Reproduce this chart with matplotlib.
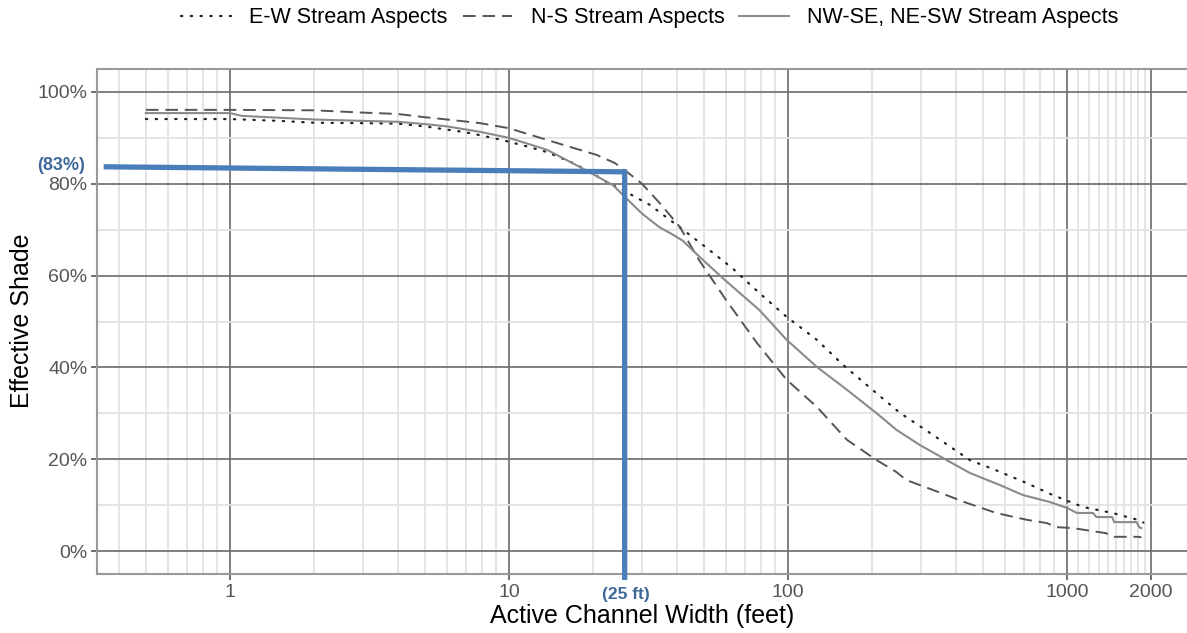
import matplotlib
matplotlib.use("Agg")
import matplotlib.pyplot as plt
from matplotlib.ticker import FixedLocator, PercentFormatter, NullFormatter

plt.rcParams['font.family'] = ['Liberation Sans', 'DejaVu Sans']

# E-W stream aspects (dotted)
ew_x = [0.5, 1, 1.5, 2, 3, 4, 5, 6, 7, 8, 9.5, 11.5, 13.7, 17, 20, 22.4, 25.6, 32, 41, 50,
        63, 79, 99, 127, 158, 201, 252, 331, 449, 557, 718, 889, 1142, 1454, 1794, 1880]
ew_y = [.941, .941, .937, .933, .932, .931, .925, .918, .912, .905, .895, .882, .869, .845, .822, .804,
        .786, .754, .705, .665, .617, .562, .510, .460, .405, .351, .301, .253, .198, .176, .148, .122,
        .096, .083, .068, .062]

# N-S stream aspects (dashed)
ns_x = [0.5, 1, 2, 3, 4, 5, 6, 7.9, 10, 12.5, 15.6, 20.6, 24, 27, 30, 34.7, 41, 48, 60, 77.5,
        99, 127, 163, 208, 245, 265, 331, 437, 557, 718, 846, 918, 1052, 1310, 1380, 1454, 1794, 1850]
ns_y = [.961, .961, .960, .955, .952, .945, .940, .932, .921, .903, .885, .863, .845, .822, .800, .758,
        .706, .634, .547, .453, .373, .314, .242, .198, .172, .155, .133, .105, .083, .068, .061, .052,
        .050, .041, .039, .031, .031, .030]

# NW-SE, NE-SW stream aspects (solid)
dg_x = [0.5, 1, 1.1, 2, 3, 4, 5, 6, 7.9, 10, 13.7, 17.9, 23.6, 26.7, 30, 34.7, 38, 42, 48, 58.5, 79,
        99, 127, 163, 208, 245, 297, 371, 449, 574, 695, 866, 1000, 1086, 1240, 1276, 1454, 1477,
        1780, 1815, 1850]
dg_y = [.954, .954, .948, .940, .937, .935, .930, .925, .913, .900, .874, .837, .797, .765, .735, .705,
        .692, .676, .642, .594, .525, .460, .401, .351, .300, .264, .231, .198, .170, .144, .122, .107,
        .094, .083, .083, .074, .074, .063, .063, .052, .050]

# reference reading
ref_x = [0.353, 26, 26]
ref_y = [0.837, 0.826, -0.063]

x_major = [1, 10, 100, 1000, 2000]
x_labels = ['1', '10', '100', '1000', '2000']
x_minor = [0.4, 0.5, 0.6, 0.7, 0.8, 0.9] + list(range(2, 10)) + list(range(20, 100, 10)) \
    + list(range(200, 1000, 100)) + list(range(1100, 2000, 100))
y_major = [0, 0.2, 0.4, 0.6, 0.8, 1.0]
y_minor = [0.1, 0.3, 0.5, 0.7, 0.9]

fig = plt.figure(figsize=(11.87, 6.33), dpi=100)
left = 97 / 1187
right = 1200 / 1187
bottom = (633 - 574) / 633
top = (633 - 69) / 633
ax = fig.add_axes([left, bottom, right - left, top - bottom])

ax.set_xscale('log')
ax.set_xlim(0.334, 2999)
ax.set_ylim(-0.05, 1.05)

ax.xaxis.set_major_locator(FixedLocator(x_major))
ax.set_xticklabels(x_labels)
ax.xaxis.set_minor_locator(FixedLocator(x_minor))
ax.xaxis.set_minor_formatter(NullFormatter())
ax.yaxis.set_major_locator(FixedLocator(y_major))
ax.yaxis.set_minor_locator(FixedLocator(y_minor))
ax.yaxis.set_major_formatter(PercentFormatter(1.0, decimals=0))

ax.grid(which='major', color='#6a6a6a', linewidth=1.2)
ax.grid(which='minor', color='#e2e2e2', linewidth=1.3)
ax.set_axisbelow(True)

ax.tick_params(which='major', length=4, width=1.2, color='#555555', labelcolor='#555555',
               labelsize=14, pad=3)
ax.tick_params(which='minor', length=0)
for s in ['left', 'bottom', 'top']:
    ax.spines[s].set_color('#999999')
    ax.spines[s].set_linewidth(1.5)
ax.spines['right'].set_visible(False)

ax.plot(ew_x, ew_y, color='#222222', linewidth=1.6, linestyle=(0, (0.6, 3.8)),
        dash_capstyle='round', label='E-W Stream Aspects')
ax.plot(ns_x, ns_y, color='#555555', linewidth=1.4, linestyle=(0, (6.5, 3.5)),
        label='N-S Stream Aspects')
ax.plot(dg_x, dg_y, color='#8a8a8a', linewidth=1.5, linestyle='-',
        label='NW-SE, NE-SW Stream Aspects')

ax.plot(ref_x, ref_y, color='#4a7ebb', linewidth=3.8, solid_joinstyle='miter',
        solid_capstyle='butt', clip_on=False, zorder=5)

fig.text(61 / 1187, 1 - 165 / 633, '(83%)', color='#3d6899', fontsize=13, fontweight='bold',
         ha='center', va='center')
fig.text(626 / 1187, 1 - 594 / 633, '(25 ft)', color='#3d6899', fontsize=12.5, fontweight='bold',
         ha='center', va='center')

fig.text(22 / 1187, 1 - 321 / 633, 'Effective Shade', rotation=90, fontsize=18,
         ha='center', va='center')
fig.text(642 / 1187, 1 - 616 / 633, 'Active Channel Width (feet)', fontsize=18,
         ha='center', va='center')

fig.legend(loc='center', bbox_to_anchor=(650 / 1187, 1 - 18 / 633), ncol=3, frameon=False,
           fontsize=15.5, handlelength=2.3, handletextpad=0.85, columnspacing=0.7)

fig.savefig('out.png', dpi=100)
